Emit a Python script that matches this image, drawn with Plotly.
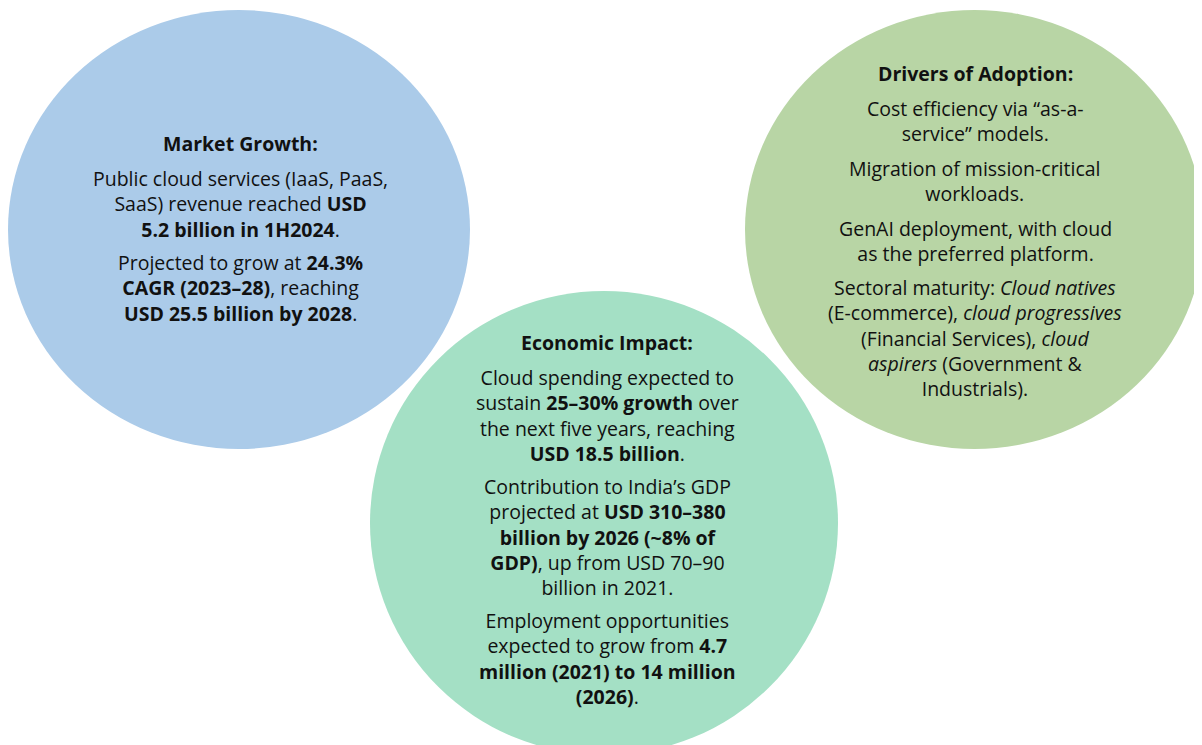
import plotly.graph_objects as go

# Textos de cada círculo (uma lista de linhas por parágrafo)
titulos = ["Market Growth:", "Economic Impact:", "Drivers of Adoption:"]

paragrafos_mercado = [
    ["Public cloud services (IaaS, PaaS,", "SaaS) revenue reached <b>USD</b>", "<b>5.2 billion in 1H2024</b>."],
    ["Projected to grow at <b>24.3%</b>", "<b>CAGR (2023–28)</b>, reaching", "<b>USD 25.5 billion by 2028</b>."],
]
paragrafos_impacto = [
    ["Cloud spending expected to", "sustain <b>25–30% growth</b> over",
     "the next five years, reaching", "<b>USD 18.5 billion</b>."],
    ["Contribution to India’s GDP", "projected at <b>USD 310–380</b>", "<b>billion by 2026 (~8% of</b>",
     "<b>GDP)</b>, up from USD 70–90", "billion in 2021."],
    ["Employment opportunities", "expected to grow from <b>4.7</b>",
     "<b>million (2021) to 14 million</b>", "<b>(2026)</b>."],
]
paragrafos_adocao = [
    ["Cost efficiency via “as-a-", "service” models."],
    ["Migration of mission-critical", "workloads."],
    ["GenAI deployment, with cloud", "as the preferred platform."],
    ["Sectoral maturity: <i>Cloud natives</i>", "(E-commerce), <i>cloud progressives</i>",
     "(Financial Services), <i>cloud</i>", "<i>aspirers</i> (Government &", "Industrials)."],
]

W, H = 1202, 745
OFF = 8  # margem do body da página html
FONTE = "'Open Sans', 'Noto Sans', sans-serif"
TAM = 19.5
PASSO = 24.8
GAP_TIT = 36
GAP_PAR = 35

# círculos: (x0, y0, x1, y1, cor)
circulos = [
    (8, 10, 470, 449, "#ABCBE9"),
    (745, 10, 1204, 449, "#B8D5A5"),
    (370, 291, 838, 755, "#A4E0C5"),
]

fig = go.Figure()
fig.add_trace(go.Scatter(x=[0, W], y=[0, H], mode="markers",
                         marker=dict(opacity=0), hoverinfo="skip", showlegend=False))

for x0, y0, x1, y1, cor in circulos:
    fig.add_shape(type="circle", x0=x0, y0=y0, x1=x1, y1=y1,
                  fillcolor=cor, line=dict(width=0), layer="below")


def texto(t, x, y):
    fig.add_annotation(x=x, y=y, text=t, showarrow=False, align="center",
                       xanchor="center", yanchor="middle",
                       font=dict(family=FONTE, size=TAM, color="#111111"))


def bloco(titulo, paragrafos, x, y):
    texto(f"<b>{titulo}</b>", x, y)
    y += GAP_TIT
    for par in paragrafos:
        n = len(par)
        texto("<br>".join(par), x, y + (n - 1) * PASSO / 2)
        y += (n - 1) * PASSO + GAP_PAR


bloco(titulos[0], paragrafos_mercado, 240, 143)
bloco(titulos[1], paragrafos_impacto, 607, 342)
bloco(titulos[2], paragrafos_adocao, 975, 73)

fig.update_xaxes(range=[OFF, W + OFF], visible=False, fixedrange=True)
fig.update_yaxes(range=[H + OFF, OFF], visible=False, fixedrange=True)
fig.update_layout(width=W, height=H, margin=dict(l=0, r=0, t=0, b=0),
                  plot_bgcolor="white", paper_bgcolor="white", showlegend=False)

fig.write_html("out.html")
